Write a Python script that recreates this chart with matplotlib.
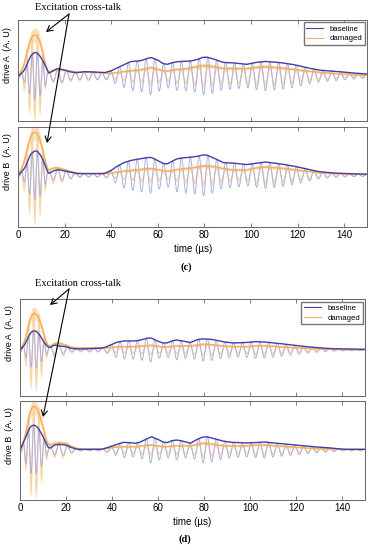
import numpy as np
import matplotlib
matplotlib.use("Agg")
import matplotlib.pyplot as plt
from matplotlib.lines import Line2D
from matplotlib.patches import FancyArrowPatch
from matplotlib.transforms import IdentityTransform

plt.rcParams["font.family"] = ["Liberation Sans", "DejaVu Sans"]

# envelope knots (time in us, amplitude in A.U.)
t_knots = [0, 2, 3, 4, 5, 6, 7, 8, 9, 10, 11, 12, 13, 15, 17, 20, 22, 25, 28, 30,
           35, 37, 40, 42, 45, 48, 50, 52, 55, 57, 60, 62, 64, 66, 68, 70, 74, 77,
           79, 81, 84, 88, 92, 98, 102, 106, 112, 118, 124, 129, 135, 141, 146, 150]

c_base_A = [0, 0.12, 0.23, 0.40, 0.56, 0.66, 0.71, 0.70, 0.63, 0.53, 0.40, 0.26, 0.08,
            0.16, 0.23, 0.18, 0.13, 0.10, 0.13, 0.13, 0.11, 0.10, 0.16, 0.23, 0.33,
            0.43, 0.45, 0.45, 0.52, 0.56, 0.48, 0.38, 0.35, 0.40, 0.43, 0.44, 0.45,
            0.50, 0.56, 0.57, 0.51, 0.41, 0.40, 0.35, 0.41, 0.44, 0.41, 0.35, 0.25,
            0.18, 0.15, 0.11, 0.08, 0.06]
c_dmg_A = [0, 0.25, 0.50, 0.80, 1.05, 1.20, 1.24, 1.22, 1.10, 0.85, 0.55, 0.25, 0.12,
           0.17, 0.20, 0.18, 0.15, 0.12, 0.12, 0.12, 0.10, 0.09, 0.08, 0.10, 0.13,
           0.16, 0.17, 0.18, 0.22, 0.26, 0.20, 0.16, 0.15, 0.18, 0.20, 0.20, 0.24,
           0.29, 0.31, 0.31, 0.28, 0.23, 0.23, 0.22, 0.26, 0.28, 0.25, 0.20, 0.15,
           0.11, 0.08, 0.05, 0.03, 0.03]
c_base_B = [0, 0.15, 0.25, 0.42, 0.60, 0.68, 0.73, 0.73, 0.66, 0.55, 0.40, 0.20, 0.05,
            0.13, 0.17, 0.13, 0.10, 0.05, 0.05, 0.05, 0.05, 0.05, 0.15, 0.25, 0.37,
            0.44, 0.47, 0.49, 0.53, 0.54, 0.44, 0.36, 0.34, 0.42, 0.49, 0.52, 0.54,
            0.57, 0.61, 0.61, 0.52, 0.38, 0.37, 0.32, 0.36, 0.40, 0.35, 0.28, 0.19,
            0.11, 0.07, 0.05, 0.04, 0.03]
c_dmg_B = [0, 0.30, 0.55, 0.85, 1.10, 1.25, 1.30, 1.28, 1.15, 0.90, 0.60, 0.30, 0.15,
           0.22, 0.22, 0.17, 0.12, 0.07, 0.05, 0.05, 0.05, 0.05, 0.07, 0.09, 0.12,
           0.14, 0.15, 0.17, 0.20, 0.20, 0.17, 0.14, 0.12, 0.14, 0.17, 0.19, 0.21,
           0.25, 0.28, 0.28, 0.26, 0.20, 0.16, 0.16, 0.22, 0.25, 0.22, 0.17, 0.12,
           0.08, 0.05, 0.03, 0.03, 0.03]
d_base_A = [0, 0.15, 0.30, 0.45, 0.54, 0.58, 0.56, 0.50, 0.40, 0.28, 0.18, 0.10, 0.07,
            0.15, 0.12, 0.10, 0.05, 0.03, 0.03, 0.04, 0.05, 0.08, 0.17, 0.23, 0.27,
            0.27, 0.27, 0.29, 0.35, 0.36, 0.26, 0.21, 0.21, 0.27, 0.30, 0.28, 0.22,
            0.31, 0.33, 0.33, 0.31, 0.25, 0.21, 0.22, 0.25, 0.24, 0.20, 0.15, 0.10,
            0.07, 0.04, 0.03, 0.02, 0.02]
d_dmg_A = [0, 0.25, 0.55, 0.85, 1.02, 1.10, 1.08, 0.98, 0.80, 0.55, 0.32, 0.15, 0.10,
           0.20, 0.20, 0.15, 0.08, 0.06, 0.06, 0.06, 0.06, 0.06, 0.08, 0.09, 0.10,
           0.10, 0.10, 0.11, 0.13, 0.14, 0.11, 0.09, 0.09, 0.11, 0.12, 0.12, 0.12,
           0.15, 0.17, 0.17, 0.15, 0.12, 0.10, 0.10, 0.12, 0.13, 0.10, 0.07, 0.05,
           0.03, 0.02, 0.01, 0.01, 0.01]
d_base_B = [0, 0.30, 0.48, 0.65, 0.72, 0.75, 0.72, 0.65, 0.53, 0.40, 0.25, 0.10, 0.05,
            0.15, 0.17, 0.15, 0.08, 0.02, 0.02, 0.02, 0.02, 0.05, 0.12, 0.17, 0.23,
            0.22, 0.20, 0.23, 0.33, 0.40, 0.32, 0.24, 0.22, 0.28, 0.30, 0.28, 0.20,
            0.32, 0.38, 0.40, 0.35, 0.27, 0.23, 0.21, 0.22, 0.24, 0.20, 0.16, 0.12,
            0.09, 0.06, 0.02, 0.02, 0.02]
d_dmg_B = [0, 0.35, 0.70, 1.05, 1.25, 1.32, 1.28, 1.15, 0.95, 0.68, 0.40, 0.20, 0.15,
           0.20, 0.22, 0.20, 0.12, 0.04, 0.02, 0.02, 0.02, 0.04, 0.08, 0.09, 0.10,
           0.10, 0.10, 0.11, 0.14, 0.15, 0.12, 0.10, 0.10, 0.12, 0.13, 0.13, 0.12,
           0.17, 0.20, 0.20, 0.17, 0.13, 0.12, 0.12, 0.15, 0.15, 0.12, 0.09, 0.06,
           0.04, 0.03, 0.02, 0.02, 0.02]

# carrier periods (us): excitation burst, then guided wave
period_burst = 2.3
period_wave = 3.8
t_switch = 12.5

xticks = [0, 20, 40, 60, 80, 100, 120, 140]

BLUE = "#3f3fa8"
BLUE_THIN = "#b0b0df"
ORANGE = "#f4b15a"
ORANGE_THIN = "#f9cd92"

t = np.arange(0, 150.01, 0.02)
freq = np.where(t < t_switch, 1 / period_burst, 1 / period_wave)
phase = np.cumsum(freq) * 0.02
phase = phase - np.interp(15, t, phase) + 0.5
carrier = np.cos(2 * np.pi * phase)


def envelope(knots):
    e = np.interp(t, t_knots, knots)
    k = np.ones(40) / 40
    return np.convolve(np.pad(e, 20, mode="edge"), k, mode="same")[20:-20]


def panel(ax, base, dmg, ylim, label, legend=False, bottom=False):
    eb = envelope(base)
    ed = envelope(dmg)
    ax.fill_between(t, ed * 0.82, ed * 1.16 + 0.02, color=ORANGE, alpha=0.35, lw=0)
    for s in (0.85, 1.0, 1.15):
        ax.plot(t, s * ed * carrier, color=ORANGE_THIN, lw=0.7, alpha=0.55)
    ax.plot(t, eb * carrier, color=BLUE_THIN, lw=0.7)
    ax.plot(t, ed, color=ORANGE, lw=1.1)
    ax.plot(t, eb, color=BLUE, lw=1.0)
    ax.set_xlim(0, 150)
    ax.set_ylim(*ylim)
    ax.set_yticks([])
    ax.set_xticks(xticks)
    ax.tick_params(axis="x", direction="in", top=True, length=3, width=0.6,
                   color="#666666", labelsize=7, pad=2, labelbottom=bottom)
    for sp in ax.spines.values():
        sp.set_color("#666666")
        sp.set_linewidth(0.7)
    ax.set_ylabel(label, fontsize=6.5)
    ax.yaxis.set_label_coords(-0.018, 0.65)
    if bottom:
        ax.set_xlabel("time (µs)", fontsize=7, labelpad=3)
    if legend:
        h = [Line2D([], [], color=BLUE, lw=0.8), Line2D([], [], color=ORANGE, lw=0.8)]
        ax.legend(h, ["baseline", "damaged"], loc="upper right", fontsize=5.6,
                  fancybox=False, edgecolor="#777777", framealpha=1,
                  handlelength=2.2, borderaxespad=0.3, borderpad=0.35,
                  labelspacing=0.3)


fig = plt.figure(figsize=(3.73, 5.50), dpi=100)

ax1 = fig.add_axes([0.049, 0.7805, 0.936, 0.183])
ax2 = fig.add_axes([0.049, 0.5867, 0.936, 0.1833])
ax3 = fig.add_axes([0.0536, 0.2809, 0.925, 0.175])
ax4 = fig.add_axes([0.0536, 0.0909, 0.925, 0.180])

panel(ax1, c_base_A, c_dmg_A, (-1.345, 1.685), "drive A  (A. U)", legend=True)
panel(ax2, c_base_B, c_dmg_B, (-1.57, 1.47), "drive B  (A. U)", bottom=True)
panel(ax3, d_base_A, d_dmg_A, (-1.365, 1.52), "drive A  (A. U)", legend=True)
panel(ax4, d_base_B, d_dmg_B, (-1.5, 1.47), "drive B  (A. U)", bottom=True)


def px(x, y):
    return (x, 550 - y)


serif = ["Liberation Serif", "DejaVu Serif"]
for ytxt, ya, yb, xa, xb in [(8, 32, 143, 46, 47), (283, 305, 417, 50, 43)]:
    fig.text(78 / 373, 1 - ytxt / 550, "Excitation cross-talk", ha="center",
             va="center", fontsize=7.5, family=serif)
    start = px(69, ytxt + 6)
    for x_end, y_end in [(xa, ya), (xb, yb)]:
        arr = FancyArrowPatch(start, px(x_end, y_end), transform=IdentityTransform(),
                              arrowstyle="->,head_length=4,head_width=2.2",
                              lw=0.8, color="black", shrinkA=0, shrinkB=0,
                              zorder=5)
        fig.add_artist(arr)

fig.text(186 / 373, 1 - 267 / 550, "(c)", ha="center", va="center",
         fontsize=7.5, family=serif, fontweight="bold")
fig.text(185 / 373, 1 - 539 / 550, "(d)", ha="center", va="center",
         fontsize=7.5, family=serif, fontweight="bold")

fig.savefig("out.png", dpi=100)
